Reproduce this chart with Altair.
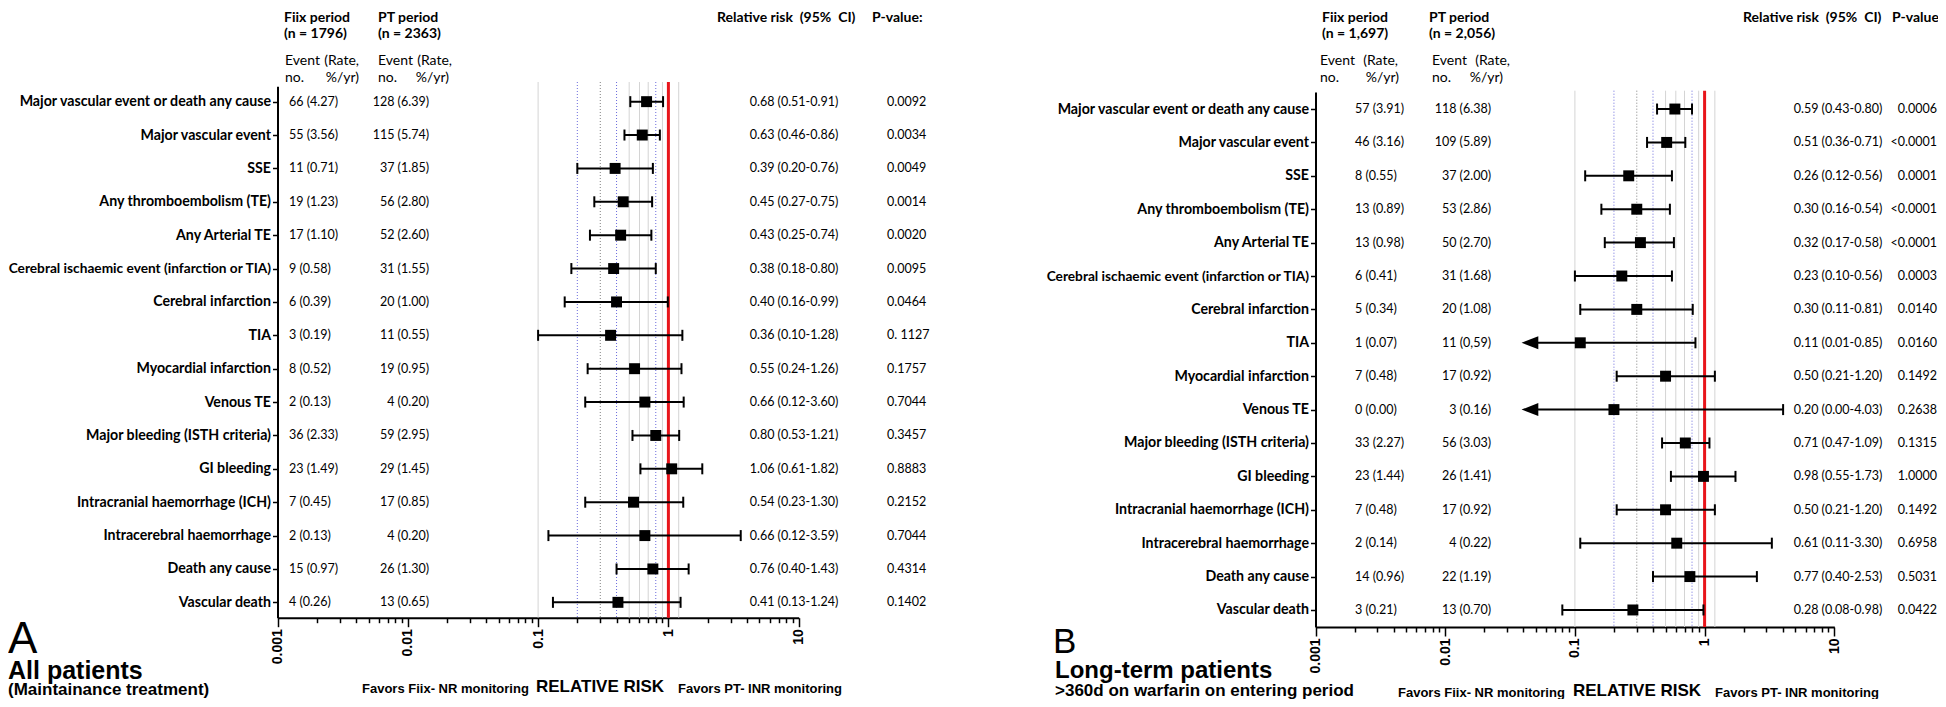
import altair as alt
import pandas as pd

# ---------------- data ----------------
events = [
    "Major vascular event or death any cause", "Major vascular event", "SSE",
    "Any thromboembolism (TE)", "Any Arterial TE",
    "Cerebral ischaemic event (infarction or TIA)", "Cerebral infarction", "TIA",
    "Myocardial infarction", "Venous TE", "Major bleeding (ISTH criteria)", "GI bleeding",
    "Intracranial haemorrhage (ICH)", "Intracerebral haemorrhage", "Death any cause",
    "Vascular death",
]

# Panel A - all patients
a_fiix = ["66 (4.27)", "55 (3.56)", "11 (0.71)", "19 (1.23)", "17 (1.10)", "9 (0.58)",
          "6 (0.39)", "3 (0.19)", "8 (0.52)", "2 (0.13)", "36 (2.33)", "23 (1.49)",
          "7 (0.45)", "2 (0.13)", "15 (0.97)", "4 (0.26)"]
a_pt = ["128 (6.39)", "115 (5.74)", "37 (1.85)", "56 (2.80)", "52 (2.60)", "31 (1.55)",
        "20 (1.00)", "11 (0.55)", "19 (0.95)", "4 (0.20)", "59 (2.95)", "29 (1.45)",
        "17 (0.85)", "4 (0.20)", "26 (1.30)", "13 (0.65)"]
a_rr_text = ["0.68 (0.51-0.91)", "0.63 (0.46-0.86)", "0.39 (0.20-0.76)", "0.45 (0.27-0.75)",
             "0.43 (0.25-0.74)", "0.38 (0.18-0.80)", "0.40 (0.16-0.99)", "0.36 (0.10-1.28)",
             "0.55 (0.24-1.26)", "0.66 (0.12-3.60)", "0.80 (0.53-1.21)", "1.06 (0.61-1.82)",
             "0.54 (0.23-1.30)", "0.66 (0.12-3.59)", "0.76 (0.40-1.43)", "0.41 (0.13-1.24)"]
a_p = ["0.0092", "0.0034", "0.0049", "0.0014", "0.0020", "0.0095", "0.0464", "0. 1127",
       "0.1757", "0.7044", "0.3457", "0.8883", "0.2152", "0.7044", "0.4314", "0.1402"]
a_rr = [0.68, 0.63, 0.39, 0.45, 0.43, 0.38, 0.40, 0.36, 0.55, 0.66, 0.80, 1.06, 0.54, 0.66, 0.76, 0.41]
a_lo = [0.51, 0.46, 0.20, 0.27, 0.25, 0.18, 0.16, 0.10, 0.24, 0.23, 0.53, 0.61, 0.23, 0.12, 0.40, 0.13]
a_hi = [0.91, 0.86, 0.76, 0.75, 0.74, 0.80, 0.99, 1.28, 1.26, 1.31, 1.21, 1.82, 1.30, 3.59, 1.43, 1.24]
a_arrow = [False] * 16

# Panel B - long-term patients
b_fiix = ["57 (3.91)", "46 (3.16)", "8 (0.55)", "13 (0.89)", "13 (0.98)", "6 (0.41)",
          "5 (0.34)", "1 (0.07)", "7 (0.48)", "0 (0.00)", "33 (2.27)", "23 (1.44)",
          "7 (0.48)", "2 (0.14)", "14 (0.96)", "3 (0.21)"]
b_pt = ["118 (6.38)", "109 (5.89)", "37 (2.00)", "53 (2.86)", "50 (2.70)", "31 (1.68)",
        "20 (1.08)", "11 (0,59)", "17 (0.92)", "3 (0.16)", "56 (3.03)", "26 (1.41)",
        "17 (0.92)", "4 (0.22)", "22 (1.19)", "13 (0.70)"]
b_rr_text = ["0.59 (0.43-0.80)", "0.51 (0.36-0.71)", "0.26 (0.12-0.56)", "0.30 (0.16-0.54)",
             "0.32 (0.17-0.58)", "0.23 (0.10-0.56)", "0.30 (0.11-0.81)", "0.11 (0.01-0.85)",
             "0.50 (0.21-1.20)", "0.20 (0.00-4.03)", "0.71 (0.47-1.09)", "0.98 (0.55-1.73)",
             "0.50 (0.21-1.20)", "0.61 (0.11-3.30)", "0.77 (0.40-2.53)", "0.28 (0.08-0.98)"]
b_p = ["0.0006", "<0.0001", "0.0001", "<0.0001", "<0.0001", "0.0003", "0.0140", "0.0160",
       "0.1492", "0.2638", "0.1315", "1.0000", "0.1492", "0.6958", "0.5031", "0.0422"]
b_rr = [0.59, 0.51, 0.26, 0.30, 0.32, 0.23, 0.30, 0.11, 0.50, 0.20, 0.71, 0.98, 0.50, 0.61, 0.77, 0.28]
b_lo = [0.43, 0.36, 0.12, 0.16, 0.17, 0.10, 0.11, 0.01, 0.21, 0.00, 0.47, 0.55, 0.21, 0.11, 0.40, 0.08]
b_hi = [0.80, 0.71, 0.56, 0.54, 0.58, 0.56, 0.81, 0.85, 1.20, 4.03, 1.09, 1.73, 1.20, 3.30, 2.53, 0.98]
b_arrow = [False] * 7 + [True, False, True] + [False] * 6

major_ticks = [0.001, 0.01, 0.1, 1, 10]
grid_solid = [0.1, 0.5, 0.6, 0.7, 0.9, 1.2]
grid_blue = [0.2, 0.4, 0.8]
grid_gray = [0.3]

# ---------------- styling / layout ----------------
W, H = 1930, 691
FONT = "Lato"
AFONT = "Liberation Sans"
ARROW_AT = 0.045          # where truncated whiskers end (arrow head)
ARROW_PATH = "M-1,0L1,-0.78L1,0.78Z"
NB = "\u00a0"

tick_vals = [float(f"{m}e{e}") for e in range(-3, 1) for m in range(1, 10)] + [10.0]
MAJOR_TEST = "indexof([" + ",".join(str(v) for v in major_ticks) + "], datum.value) >= 0"
LONG_LABEL = "Cerebral ischaemic event (infarction or TIA)"


def x_axis(offset):
    return alt.Axis(
        orient="bottom", offset=offset, values=tick_vals, format=".3~f",
        labelExpr=MAJOR_TEST + " ? datum.label : ''",
        labelAngle=270, labelFont=AFONT, labelFontWeight="bold", labelFontSize=14,
        labelColor="black", labelPadding=2, labelOverlap=False, labelFlush=False,
        tickColor="black", tickWidth=1.5,
        tickSize={"condition": {"test": MAJOR_TEST, "value": 9}, "value": 5},
        domainColor="black", domainWidth=2, grid=False, title=None,
    )


def y_axis(offset):
    return alt.Axis(
        orient="left", offset=offset, title=None, labelFont=FONT, labelFontWeight="bold",
        labelFontSize={"condition": {"test": f"datum.value == '{LONG_LABEL}'", "value": 13.7},
                       "value": 14.2},
        labelColor="black", labelLimit=600, labelPadding=2,
        tickColor="black", tickSize=5, tickWidth=1.5, domainColor="black", domainWidth=2,
        grid=False,
    )


def panel(fiix, pt, rrtxt, pvals, rr, lo, hi, arrow, g):
    lo_draw = [ARROW_AT if a else v for a, v in zip(arrow, lo)]
    df = pd.DataFrame(dict(event=events, fiix=fiix, pt=pt, rrtxt=rrtxt, p=pvals,
                           rr=rr, lo=lo_draw, hi=hi, arrow=arrow))
    xs = alt.Scale(type="log", domain=[0.001, 10], range=g["xr"], nice=False)
    xax = x_axis(g["xoff"])
    ys = alt.Scale(type="point", domain=events, range=g["yr"], padding=g["ypad"])
    Y = alt.Y("event:N", scale=ys, axis=y_axis(g["yoff"]), sort=events)

    def X(f):
        return alt.X(f, scale=xs, axis=xax)

    layers = []
    for vals, color, dash in [(grid_solid, "#d4d4d4", None), (grid_blue, "#6b6bdc", [1, 2]),
                              (grid_gray, "#808080", [1, 2])]:
        kw = dict(color=color, strokeWidth=1)
        if dash:
            kw["strokeDash"] = dash
        layers.append(alt.Chart(pd.DataFrame({"g": vals})).mark_rule(**kw).encode(
            x=X("g:Q"), y=alt.value(g["gt"]), y2=alt.value(g["gb"])))
    layers.append(alt.Chart(pd.DataFrame({"g": [1.0]})).mark_rule(
        color="#e8151b", strokeWidth=3).encode(
        x=X("g:Q"), y=alt.value(g["gt"]), y2=alt.value(g["gb"])))

    base = alt.Chart(df)
    layers.append(base.mark_rule(color="black", strokeWidth=2).encode(
        x=X("lo:Q"), x2="hi:Q", y=Y))
    layers.append(base.mark_tick(color="black", size=11, thickness=2, opacity=1).encode(
        x=X("hi:Q"), y=Y))
    layers.append(base.transform_filter("!datum.arrow").mark_tick(
        color="black", size=11, thickness=2, opacity=1).encode(x=X("lo:Q"), y=Y))
    layers.append(base.transform_filter("datum.arrow").mark_point(
        shape=ARROW_PATH, filled=True, size=280, color="black", opacity=1).encode(
        x=X("lo:Q"), y=Y))
    layers.append(base.mark_square(color="black", size=120, opacity=1).encode(
        x=X("rr:Q"), y=Y))

    def col(field, xpx, align):
        return base.mark_text(align=align, baseline="middle", font=FONT, fontSize=12.5,
                              color="black").encode(x=alt.value(xpx), y=Y, text=f"{field}:N")

    layers.append(col("fiix", g["c_fiix"][0], g["c_fiix"][1]))
    layers.append(col("pt", g["c_pt"][0], g["c_pt"][1]))
    layers.append(col("rrtxt", g["c_rr"][0], g["c_rr"][1]))
    layers.append(col("p", g["c_p"][0], g["c_p"][1]))
    return alt.layer(*layers)


def note(text, x, y, size, weight=None, font=FONT, align="left"):
    kw = dict(text=text, align=align, baseline="alphabetic", font=font, fontSize=size,
              color="black")
    if weight:
        kw["fontWeight"] = weight
    return alt.Chart(pd.DataFrame({"a": [0]})).mark_text(**kw).encode(
        x=alt.value(x), y=alt.value(y))


geoA = dict(xr=[269.5, 790.7], xoff=609.7 - H, yr=[78.3, 609.7], ypad=0.46, yoff=-269.5,
            gt=74, gb=609.7, c_fiix=(281, "left"), c_pt=(421, "right"),
            c_rr=(786, "center"), c_p=(879, "left"))
geoB = dict(xr=[1307.5, 1826.3], xoff=619 - H, yr=[84, 619], ypad=0.51, yoff=-1307.5,
            gt=82.7, gb=619, c_fiix=(1347, "left"), c_pt=(1483, "right"),
            c_rr=(1830, "center"), c_p=(1929, "right"))

pA = panel(a_fiix, a_pt, a_rr_text, a_p, a_rr, a_lo, a_hi, a_arrow, geoA)
pB = panel(b_fiix, b_pt, b_rr_text, b_p, b_rr, b_lo, b_hi, b_arrow, geoB)

RR_HEAD = f"Relative risk{NB} (95%{NB} CI)"
L1, L2, L3, L4 = 14, 30, 57, 74

notes = [
    # panel A header
    note("Fiix period", 276, L1, 14, "bold"), note("(n = 1796)", 276, L2, 14, "bold"),
    note("PT period", 370, L1, 14, "bold"), note("(n = 2363)", 370, L2, 14, "bold"),
    note("Event", 277, L3, 14), note("(Rate,", 351, L3, 14, align="right"),
    note("no.", 277, L4, 14), note("%/yr)", 351, L4, 14, align="right"),
    note("Event", 370, L3, 14), note("(Rate,", 444, L3, 14, align="right"),
    note("no.", 370, L4, 14), note("%/yr)", 441, L4, 14, align="right"),
    note(RR_HEAD, 709, L1, 14, "bold"), note("P-value:", 864, L1, 14, "bold"),
    # panel B header
    note("Fiix period", 1314, L1, 14, "bold"), note("(n = 1,697)", 1314, L2, 14, "bold"),
    note("PT period", 1421, L1, 14, "bold"), note("(n = 2,056)", 1421, L2, 14, "bold"),
    note("Event", 1312, L3, 14), note("(Rate,", 1390, L3, 14, align="right"),
    note("no.", 1312, L4, 14), note("%/yr)", 1391, L4, 14, align="right"),
    note("Event", 1424, L3, 14), note("(Rate,", 1502, L3, 14, align="right"),
    note("no.", 1424, L4, 14), note("%/yr)", 1495, L4, 14, align="right"),
    note(RR_HEAD, 1735, L1, 14, "bold"), note("P-value:", 1884, L1, 14, "bold"),
    # panel A footer
    note("A", 0, 645, 44, font=AFONT),
    note("All patients", 0, 671, 25, "bold", font=AFONT),
    note("(Maintainance treatment)", 0, 687, 17, "bold", font=AFONT),
    note("Favors Fiix- NR monitoring", 354, 685, 13, "bold", font=AFONT),
    note("RELATIVE RISK", 528, 684, 17, "bold", font=AFONT),
    note("Favors PT- INR monitoring", 670, 685, 13, "bold", font=AFONT),
    # panel B footer
    note("B", 1045, 645, 35, font=AFONT),
    note("Long-term patients", 1047, 670, 24, "bold", font=AFONT),
    note(">360d on warfarin on entering period", 1047, 688, 17, "bold", font=AFONT),
    note("Favors Fiix- NR monitoring", 1390, 689, 13, "bold", font=AFONT),
    note("RELATIVE RISK", 1565, 688, 17, "bold", font=AFONT),
    note("Favors PT- INR monitoring", 1707, 689, 13, "bold", font=AFONT),
]

chart = alt.layer(pA, pB, *notes).resolve_scale(
    x="independent", y="independent"
).properties(
    width=W, height=H, autosize=alt.AutoSizeParams(type="none"), padding=0
).configure_view(stroke=None)

chart.save("out.html", embed_options={"renderer": "svg", "actions": False})
